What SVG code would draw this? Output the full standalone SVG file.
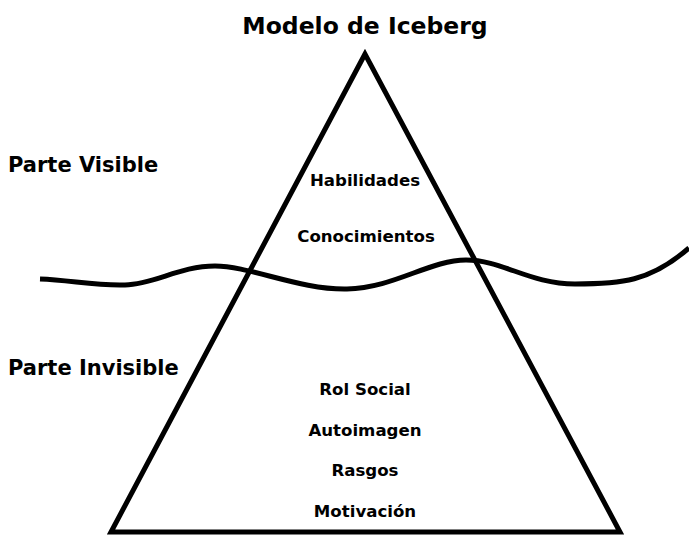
<svg xmlns="http://www.w3.org/2000/svg" width="689" height="536" viewBox="0 0 689 536">
<style>
text{font-family:"DejaVu Sans","Liberation Sans",sans-serif;font-weight:bold;fill:#000}
.t{font-size:23.5px;text-anchor:middle}
.s{font-size:21px}
.l{font-size:16.6px;text-anchor:middle}
.ln{fill:none;stroke:#000;stroke-width:5}
</style>
<rect width="689" height="536" fill="#fff"/>
<g id="title"><text class="t" x="365" y="34">Modelo de Iceberg</text></g>
<g id="iceberg"><path class="ln" d="M365,54 L111,532 L620,532 Z" stroke-linejoin="miter"/></g>
<g id="connectors"><path class="ln" stroke-width="4.5" d="M40,279 C70,280 95,286 125,285 S180,266 215,266 S300,290 347,289 S430,260 466,260 S530,284 575,284 S650,282 689,248"/></g>
<g id="visible-label"><text class="s" x="8" y="172">Parte Visible</text></g>
<g id="invisible-label"><text class="s" x="8" y="375">Parte Invisible</text></g>
<g id="habilidades"><text class="l" x="365" y="186">Habilidades</text></g>
<g id="conocimientos"><text class="l" x="366" y="242">Conocimientos</text></g>
<g id="rol-social"><text class="l" x="365" y="395">Rol Social</text></g>
<g id="autoimagen"><text class="l" x="365" y="436">Autoimagen</text></g>
<g id="rasgos"><text class="l" x="365" y="476">Rasgos</text></g>
<g id="motivacion"><text class="l" x="365" y="517">Motivación</text></g>
</svg>
